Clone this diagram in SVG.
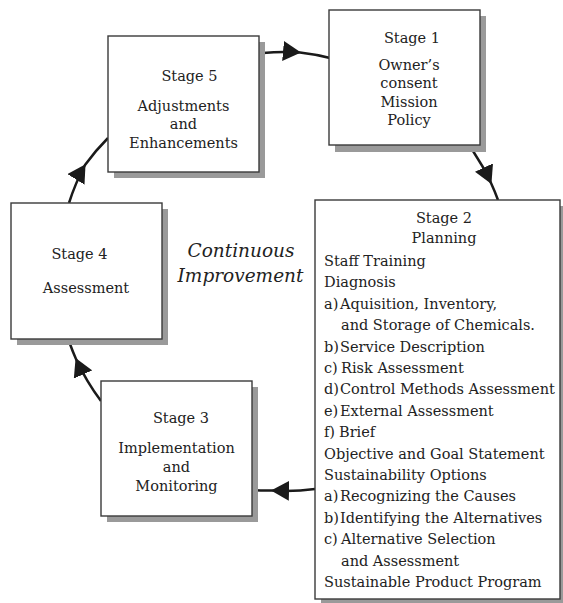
<svg xmlns="http://www.w3.org/2000/svg" width="563" height="603" viewBox="0 0 563 603">
<style>
.sh{fill:#9a9a9a}
.bx{fill:#fff;stroke:#3a3a3a;stroke-width:1.4}
text{font-family:"DejaVu Serif","Liberation Serif",serif;font-size:14.5px;fill:#222}
.c{text-anchor:middle}
.it{font-style:italic;font-size:18.5px}
.ln{fill:none;stroke:#1a1a1a;stroke-width:2.5;marker-mid:url(#ah)}
</style>
<defs>
<marker id="ah" markerUnits="userSpaceOnUse" viewBox="0 0 18 20" refX="17" refY="10" markerWidth="18" markerHeight="20" orient="auto">
<path d="M0,0 L18,10 L0,20 z" fill="#1a1a1a"/>
</marker>
</defs>
<g id="connectors">
<path class="ln" d="M263,53 A225,225 0 0 1 300,52.5 A225,225 0 0 1 330,58"/>
<path class="ln" d="M473,151 A225,225 0 0 1 491,183 A225,225 0 0 1 498,200"/>
<path class="ln" d="M315,489 A225,225 0 0 1 272,490.5 A225,225 0 0 1 252,490"/>
<path class="ln" d="M101,401 A225,225 0 0 1 76,359 A225,225 0 0 1 70,344"/>
<path class="ln" d="M69,203 A225,225 0 0 1 85,165 A225,225 0 0 1 108,138"/>
</g>
<g id="stage5">
<rect class="sh" x="114" y="42" width="151" height="136"/>
<rect class="bx" x="108" y="36" width="151" height="136"/>
<text class="c" x="189.5" y="81">Stage 5</text>
<text class="c" x="183.5" y="111">Adjustments</text>
<text class="c" x="183.5" y="129">and</text>
<text class="c" x="183.5" y="148">Enhancements</text>
</g>
<g id="stage1">
<rect class="sh" x="335" y="16" width="151" height="136"/>
<rect class="bx" x="329" y="10" width="151" height="135"/>
<text class="c" x="412" y="43">Stage 1</text>
<text class="c" x="409" y="70">Owner’s</text>
<text class="c" x="409" y="88">consent</text>
<text class="c" x="409" y="107">Mission</text>
<text class="c" x="409" y="125">Policy</text>
</g>
<g id="stage4">
<rect class="sh" x="17" y="209" width="151" height="136"/>
<rect class="bx" x="11" y="203" width="151" height="136"/>
<text class="c" x="79.5" y="259">Stage 4</text>
<text class="c" x="86" y="293">Assessment</text>
</g>
<g id="center-label">
<text class="c it" x="241" y="257">Continuous</text>
<text class="c it" x="240.5" y="282">Improvement</text>
</g>
<g id="stage3">
<rect class="sh" x="107" y="387" width="151" height="135"/>
<rect class="bx" x="101" y="381" width="151" height="135"/>
<text class="c" x="181" y="423">Stage 3</text>
<text class="c" x="176.5" y="453">Implementation</text>
<text class="c" x="176.5" y="472">and</text>
<text class="c" x="176.5" y="491">Monitoring</text>
</g>
<g id="stage2">
<rect class="sh" x="321" y="206" width="246" height="400"/>
<rect class="bx" x="315" y="200" width="245" height="399"/>
<text class="c" x="444" y="223">Stage 2</text>
<text class="c" x="444" y="243">Planning</text>
<text x="324" y="266">Staff Training</text>
<text x="324" y="287.4">Diagnosis</text>
<text x="324" y="308.8">a)<tspan x="340">Aquisition, Inventory,</tspan></text>
<text x="341" y="330.2">and Storage of Chemicals.</text>
<text x="324" y="351.6">b)<tspan x="340">Service Description</tspan></text>
<text x="324" y="373">c)<tspan x="341">Risk Assessment</tspan></text>
<text x="324" y="394.4">d)<tspan x="340">Control Methods Assessment</tspan></text>
<text x="324" y="415.8">e)<tspan x="340">External Assessment</tspan></text>
<text x="324" y="437.2">f)<tspan x="339">Brief</tspan></text>
<text x="324" y="458.6">Objective and Goal Statement</text>
<text x="324" y="480">Sustainability Options</text>
<text x="324" y="501.4">a)<tspan x="340">Recognizing the Causes</tspan></text>
<text x="324" y="522.8">b)<tspan x="340">Identifying the Alternatives</tspan></text>
<text x="324" y="544.2">c)<tspan x="341">Alternative Selection</tspan></text>
<text x="341" y="565.6">and Assessment</text>
<text x="324" y="587">Sustainable Product Program</text>
</g>
</svg>
